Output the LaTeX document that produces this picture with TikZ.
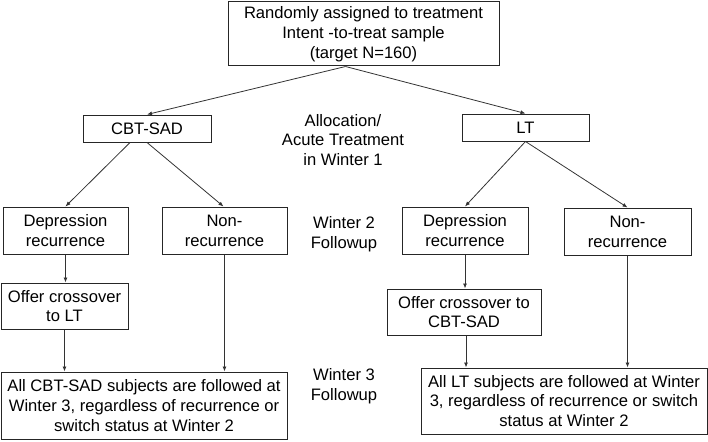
\documentclass[tikz,border=0pt]{standalone}
\usepackage{fontspec}
\setmainfont{Liberation Sans}
\usetikzlibrary{arrows.meta}
\begin{document}
\begin{tikzpicture}[x=1pt,y=-1pt,
  box/.style={draw=black!85,line width=1pt,align=center,inner sep=0pt,
    font=\fontsize{16.6}{19.8}\selectfont},
  lbl/.style={align=center,inner sep=0pt,font=\fontsize{16.6}{19.8}\selectfont},
  arr/.style={draw=black!80,line width=0.8pt,-{Latex[length=5pt,width=4pt]}}]
\useasboundingbox (0,0) rectangle (708,441);
\node[box,minimum width=271pt,minimum height=64pt] (top) at (363.5,34)
  {Randomly assigned to treatment\\Intent -to-treat sample\\(target N=160)};
\node[box,minimum width=128pt,minimum height=27pt] (cbt) at (147,128.5) {CBT-SAD};
\node[box,minimum width=127pt,minimum height=27pt] (lt) at (525.5,127.5) {LT};
\node[box,minimum width=125pt,minimum height=47pt] (depL) at (65.5,230.5) {Depression\\recurrence};
\node[box,minimum width=125pt,minimum height=47pt] (nonL) at (224.5,230.5) {Non-\\recurrence};
\node[box,minimum width=126pt,minimum height=47pt] (depR) at (465,230.5) {Depression\\recurrence};
\node[box,minimum width=127pt,minimum height=47pt] (nonR) at (627.5,231.5) {Non-\\recurrence};
\node[box,minimum width=127pt,minimum height=46pt] (offL) at (64.5,306) {Offer crossover\\to LT};
\node[box,minimum width=154pt,minimum height=46pt] (offR) at (464,312) {Offer crossover to\\CBT-SAD};
\node[box,minimum width=286pt,minimum height=67pt] (bigL) at (144,405.5)
  {All CBT-SAD subjects are followed at\\Winter 3, regardless of recurrence or\\switch status at Winter 2};
\node[box,minimum width=286pt,minimum height=66pt] (bigR) at (564,401)
  {All LT subjects are followed at Winter\\3, regardless of recurrence or switch\\status at Winter 2};
\node[lbl] (alloc) at (343,140) {Allocation/\\Acute Treatment\\in Winter 1};
\node[lbl] (w2) at (344,234) {Winter 2\\Followup};
\node[lbl] (w3) at (344,386) {Winter 3\\Followup};
\coordinate (topOut) at ([xshift=-18pt]top.south);
\draw[arr] (topOut) -- (cbt.north);
\draw[arr] (topOut) -- (lt.north);
\draw[arr] ([xshift=-17pt]cbt.south) -- (depL.north);
\draw[arr] (cbt.south) -- ([xshift=-1pt]nonL.north);
\draw[arr] (lt.south) -- (depR.north);
\draw[arr] (lt.south) -- (nonR.north);
\draw[arr] (depL.south) -- (depL.south |- offL.north);
\draw[arr] (offL.south) -- (offL.south |- bigL.north);
\draw[arr] (nonL.south) -- (nonL.south |- bigL.north);
\draw[arr] (depR.south) -- (depR.south |- offR.north);
\draw[arr] ([xshift=2pt]offR.south) -- ([xshift=2pt]offR.south |- bigR.north);
\draw[arr] (nonR.south) -- (nonR.south |- bigR.north);
\end{tikzpicture}
\end{document}
